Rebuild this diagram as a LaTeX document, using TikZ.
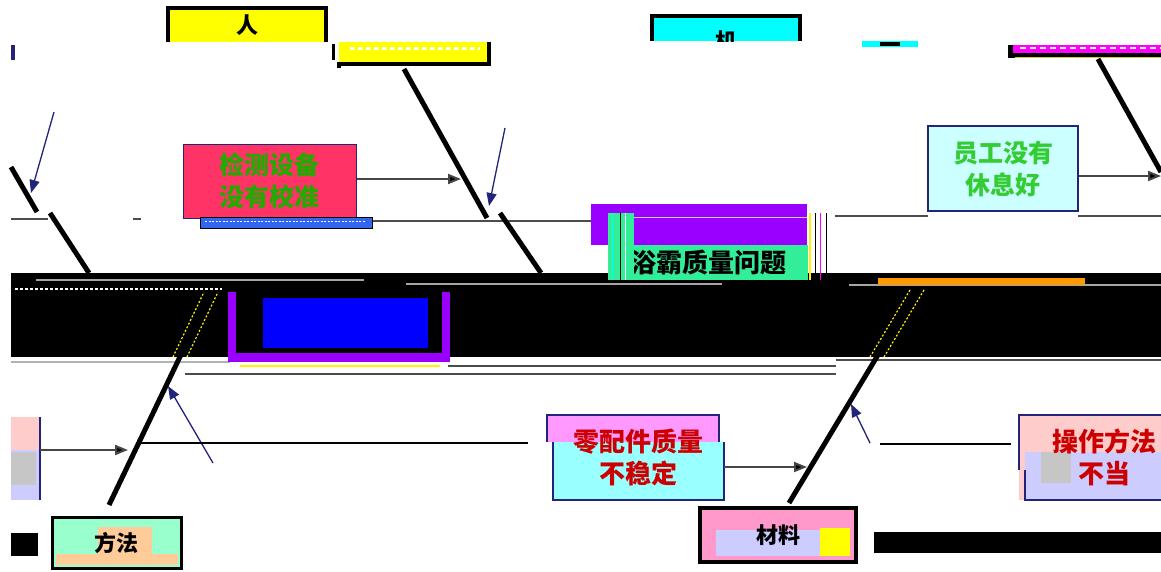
\documentclass[tikz,border=0pt]{standalone}
\usepackage{fontspec}
\newfontfamily\cjk{Noto Sans CJK SC}
\usetikzlibrary{arrows.meta}
\definecolor{yellowc}{HTML}{FFFF00}
\definecolor{cyanc}{HTML}{00FFFF}
\definecolor{magc}{HTML}{FF00FF}
\definecolor{redc}{HTML}{FF3366}
\definecolor{greent}{HTML}{22AA00}
\definecolor{greenb}{HTML}{33CC33}
\definecolor{lcyan}{HTML}{CCFFFF}
\definecolor{navyc}{HTML}{23237A}
\definecolor{purplec}{HTML}{9900FF}
\definecolor{mintc}{HTML}{33EE99}
\definecolor{bluec}{HTML}{0000FF}
\definecolor{barblue}{HTML}{3366EE}
\definecolor{mintg}{HTML}{99FFCC}
\definecolor{peach}{HTML}{FFCC99}
\definecolor{pinkc}{HTML}{FF99CC}
\definecolor{pinkv}{HTML}{FF99FF}
\definecolor{cyanl}{HTML}{99FFFF}
\definecolor{pinkl}{HTML}{FFCCCC}
\definecolor{lav}{HTML}{CCCCFF}
\definecolor{redt}{HTML}{CC0000}
\definecolor{orangec}{HTML}{FF9900}
\tikzset{
  cat/.style={inner sep=0pt, font=\cjk\bfseries\fontsize{22}{26}\selectfont},
  cause/.style={inner sep=0pt, align=center, font=\cjk\bfseries\fontsize{25}{32}\selectfont},
  bone/.style={line width=5pt, draw=black},
  twig/.style={line width=1.3pt, draw=navyc, -{Triangle[length=13pt,width=10pt]}},
  conn/.style={line width=2pt, draw=gray!55!black, -{Triangle[length=13pt,width=10pt,fill=black]}},
  hline/.style={line width=1.8pt, draw=gray!60!black},
  catframe/.style={line width=4pt, draw=black},
  speck/.style={line width=1.2pt, draw=yellow, dash pattern=on 2pt off 2pt},
}
\begin{document}
\begin{tikzpicture}[x=1pt,y=-1pt]
\useasboundingbox (0,0) rectangle (1161,571);
\fill[white] (0,0) rectangle (1161,571);

% ---------- upper branch line ----------
\draw[hline] (11,219) -- (48,219);
\draw[hline] (133,219) -- (141,219);
\draw[hline] (356,221) -- (591,221);
\draw[hline] (835,216) -- (928,216);
\draw[hline] (1078,216) -- (1161,216);

% ---------- spine band ----------
\fill[black] (11,273) rectangle (1161,357);
\draw[gray!70, line width=1.5pt] (36,280) -- (364,280);
\draw[white, line width=1.5pt, dash pattern=on 3pt off 2pt] (15,289) -- (222,289);
\draw[gray!70, line width=1.5pt] (406,284) -- (722,284);
\draw[gray!70, line width=1.5pt] (849,285) -- (1161,285);
\fill[orangec] (878,278) rectangle (1085,285);
\draw[gray!60, line width=1.5pt] (11,362) -- (230,362);
\draw[gray!60!black, line width=1.5pt] (448,366) -- (836,366);
\draw[gray!60!black, line width=1.5pt] (185,374) -- (836,374);
\draw[gray!60!black, line width=1.5pt] (836,360) -- (1161,360);

% blue box inside band
\fill[purplec] (228,292) rectangle (450,362);
\fill[black] (236,292) rectangle (442,353);
\node[fill=bluec, inner sep=0pt, minimum width=165pt, minimum height=50pt] (bl) at (345.5,323) {};
\draw[yellow, line width=1.2pt] (240,366) -- (440,366);

% short bones from branch line into spine
\coordinate (u1a) at (50,213);
\coordinate (u1b) at (89,273);
\coordinate (u2a) at (500,213);
\coordinate (u2b) at (541,273);
\draw[bone] (u1a) -- (u1b);
\draw[bone] (u2a) -- (u2b);

% ---------- top category boxes ----------
\node[cat, fill=yellowc, minimum width=158pt, minimum height=34pt] (ren) at (247,25) {人};
\draw[catframe] (ren.south west) |- (ren.north east) -- (ren.south east);

\node[fill=yellowc, inner sep=0pt, minimum width=150pt, minimum height=22pt] (cbox) at (414,53) {};
\draw[white, line width=3pt, dash pattern=on 5pt off 3pt] (350,48) -- (480,48);
\draw[catframe] ([yshift=-4pt]cbox.south west) -- (cbox.south west) -- (cbox.south east) -- (cbox.north east);
\draw[line width=3pt, draw=black] (333,44) -- (333,60);

\node[fill=cyanc, inner sep=0pt, minimum width=148pt, minimum height=25pt] (ji) at (726,28.5) {};
\begin{scope}
\clip (652,16) rectangle (800,41);
\node[cat] (jit) at (726,41) {机};
\end{scope}
\draw[catframe] (ji.south west) |- (ji.north east) -- (ji.south east);

\node[fill=magc, inner sep=0pt, minimum width=153pt, minimum height=8pt] (hbox) at (1084.5,49) {};
\draw[white, line width=2pt, dash pattern=on 6pt off 4pt] (1020,48) -- (1161,48);
\fill[black] (1008,53) rectangle (1161,58);
\fill[black] (1008,45) rectangle (1013,58);
\draw[yellow!80!black, line width=1pt] (1015,57) -- (1161,57);

% misc small marks
\fill[navyc] (11,45) rectangle (15,60);
\fill[cyanc] (862,41) rectangle (918,47);
\fill[black] (880,42) rectangle (900,46);

% ---------- top bones ----------
\coordinate (b1s) at (404,69);
\coordinate (b1e) at (487,218);
\draw[bone] (b1s) -- (b1e);
\coordinate (b2s) at (1098,59);
\coordinate (b2e) at (1161,172);
\draw[bone] (b2s) -- (b2e);
\coordinate (b0s) at (11,167);
\coordinate (b0e) at (37,212);
\draw[bone] (b0s) -- (b0e);

\coordinate (t1s) at (54,112);
\coordinate (t1e) at (31,193);
\draw[twig] (t1s) -- (t1e);
\coordinate (t2s) at (505,128);
\coordinate (t2e) at (489,206);
\draw[twig] (t2s) -- (t2e);

% ---------- upper cause boxes ----------
\node[cause, fill=redc, draw=navyc, line width=1pt, text=greent, minimum width=173pt, minimum height=74pt] (jc) at (269.5,181) {检测设备\\没有校准};
\node[fill=barblue, draw=black, line width=1pt, inner sep=0pt, minimum width=172pt, minimum height=11pt] (jcbar) at (286,222.5) {};
\draw[white, line width=1pt, dash pattern=on 2pt off 1.5pt] (205,221) -- (365,221);
\coordinate (a1e) at (461,179);
\draw[conn] (jc.east |- a1e) -- (a1e);

\node[cause, fill=lcyan, draw=navyc, line width=1.5pt, text=greenb, minimum width=150pt, minimum height=85pt] (yg) at (1003,168.5) {员工没有\\休息好};
\coordinate (a2e) at (1161,176);
\draw[conn] (yg.east |- a2e) -- (a2e);

% ---------- head ----------
\fill[purplec] (591,204) rectangle (807,245);
\draw[gray!40, line width=1pt] (630,217) -- (807,217);
\node[cause, fill=mintc, text=black, minimum width=200pt, minimum height=35pt, font=\cjk\bfseries\fontsize{26}{30}\selectfont] (head) at (708,262.5) {浴霸质量问题};
\fill[mintc] (608,213) rectangle (634,280);
\draw[black, line width=1pt] (620,213) -- (620,280);
\draw[white, line width=1pt] (625,213) -- (625,280);
\draw[cyanc, line width=1pt] (612,213) -- (612,280);
\draw[yellow, line width=1.5pt] (810,213) -- (810,280);
\draw[black, line width=1pt] (815,213) -- (815,280);
\draw[magc, line width=1pt] (820,213) -- (820,280);
\draw[black, line width=1pt] (826,213) -- (826,280);

% ---------- lower bones ----------
\coordinate (f1s) at (109,505);
\coordinate (f1e) at (211,292);
\draw[bone] (f1s) -- (f1e);
\draw[speck] (173,357) -- (204,292);
\draw[speck] (187,357) -- (218,292);
\coordinate (f2s) at (789,503);
\coordinate (f2e) at (917,290);
\draw[bone] (f2s) -- (f2e);
\draw[speck] (870,357) -- (910,290);
\draw[speck] (884,357) -- (924,290);

% left partial box
\node[fill=pinkl, inner sep=0pt, minimum width=29pt, minimum height=83pt] (lp) at (25.5,458.5) {};
\fill[lav] (11,450) rectangle (40,500);
\fill[gray!45] (11,452) rectangle (36,485);
\draw[navyc, line width=1.5pt] (lp.north east) -- (lp.south east);
\coordinate (a3e) at (128,450);
\draw[conn] (lp.east |- a3e) -- (a3e);

\coordinate (t3s) at (213,463);
\coordinate (t3e) at (168,386);
\draw[twig] (t3s) -- (t3e);
\coordinate (h1s) at (141,443);
\coordinate (h1e) at (528,443);
\draw[line width=2.2pt] (h1s) -- (h1e);

% 零配件质量不稳定
\fill[pinkv] (547,415) rectangle (719,442);
\fill[cyanl] (553,442) rectangle (724,500);
\draw[navyc, line width=1.5pt] (547,442) |- (719,415) -- (719,442);
\draw[navyc, line width=1.5pt] (553,442) |- (724,500) -- (724,442);
\node[cause, text=redt, minimum width=171pt, minimum height=85pt, font=\cjk\bfseries\fontsize{26}{32}\selectfont] (lpj) at (638.5,457.5) {零配件质量\\不稳定};
\coordinate (a4e) at (807,467);
\draw[conn] (lpj.east |- a4e) -- (a4e);

\coordinate (t4s) at (870,443);
\coordinate (t4e) at (851,404);
\draw[twig] (t4s) -- (t4e);
\coordinate (h2s) at (880,444);
\coordinate (h2e) at (1011,444);
\draw[line width=2.2pt] (h2s) -- (h2e);

% 操作方法不当
\fill[pinkl] (1019,415) rectangle (1161,500);
\fill[lav] (1025,452) rectangle (1161,500);
\fill[gray!45] (1041,452) rectangle (1071,483);
\draw[navyc, line width=1.5pt] (1019,470) |- (1161,415);
\draw[navyc, line width=1.5pt] (1025,470) |- (1161,500);
\node[cause, text=redt, font=\cjk\bfseries\fontsize{26}{32}\selectfont] (cz) at (1104,457) {操作方法\\不当};

% 方法
\fill[mintg] (52,517) rectangle (181,568);
\fill[peach] (98,527) rectangle (152,556);
\fill[peach] (56,554) rectangle (178,565);
\node[cat, draw=black, line width=3pt, minimum width=129pt, minimum height=51pt] (ff) at (116.5,542.5) {方法};

% 材料
\fill[pinkc] (700,508) rectangle (856,562);
\fill[lav] (716,530) rectangle (820,556);
\fill[yellowc] (820,528) rectangle (850,556);
\node[cat, draw=black, line width=3.5pt, minimum width=156pt, minimum height=54pt] (cl) at (778,535) {材料};

% black blocks at bottom
\fill[black] (11,533) rectangle (38,556);
\fill[black] (874,532) rectangle (1161,553);
\end{tikzpicture}
\end{document}
